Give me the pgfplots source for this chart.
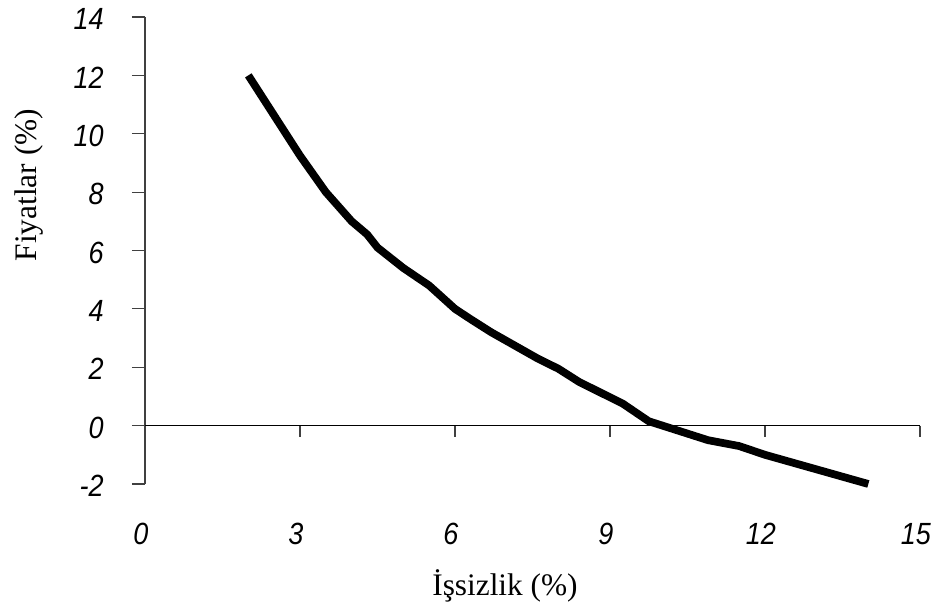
\documentclass[border=0pt]{standalone}
\usepackage{pgfplots}
\pgfplotsset{compat=1.18}
\usepackage{fontspec}
\setmainfont{Liberation Serif}
\newfontfamily\tickfont{Liberation Sans}[FakeStretch=0.88]

\begin{document}
\begin{tikzpicture}
% page frame: 947x610 px at 0.75pt per px, origin at the lower left of the plot area
\useasboundingbox (-108.75pt,-94.5pt) rectangle (601.5pt,363pt);
\begin{axis}[
    at={(0,0)}, anchor=south west,
    scale only axis,
    width=581.25pt, height=350.25pt,
    xmin=0, xmax=15,
    ymin=-2, ymax=14,
    xtick={0,3,...,15},
    xticklabels={0,3,6,9,12,15},
    ytick={-2,0,...,14},
    yticklabels={-2,0,2,4,6,8,10,12,14},
    axis line style={draw=none},
    xtick style={draw=none},
    ytick pos=left,
    tick align=outside,
    ytick style={black!75, line width=0.8pt},
    major tick length=9.75pt,
    tick label style={font=\tickfont\itshape\fontsize{23}{26}\selectfont},
    xticklabel style={anchor=north, inner sep=0pt, yshift=-19.5pt, xshift=-3pt},
    yticklabel style={anchor=east, inner sep=0pt, xshift=-21pt, yshift=-1.5pt},
    label style={font=\fontsize{23.5}{28}\selectfont},
    xlabel={İşsizlik (\%)},
    ylabel={Fiyatlar (\%)},
    xlabel style={at={(axis description cs:0.4645,-0.2398)}, anchor=base},
    ylabel style={at={(axis description cs:-0.1398,0.64)}, anchor=base},
    clip=false,
]

% axis lines: y axis at x=0, x axis at y=0
\draw[black!75, line width=0.8pt] (axis cs:0,-2) -- (axis cs:0,14);
\draw[black, line width=0.8pt] (axis cs:0,0) -- (axis cs:15,0);
\pgfplotsinvokeforeach{0,3,6,9,12,15}{
    \draw[black!75, line width=0.8pt] (axis cs:#1,0) -- ([yshift=-8.25pt]axis cs:#1,0);
}

% Phillips curve
\addplot[black, line width=5.8pt, line join=round] coordinates {
    (2,12) (3,9.25) (3.5,8.0) (4,7.0) (4.3,6.55) (4.5,6.1)
    (5,5.4) (5.5,4.8) (6,4.0) (6.3,3.65) (6.7,3.2) (7.6,2.3)
    (8,1.95) (8.4,1.5) (9.25,0.75) (9.75,0.15) (10.9,-0.5)
    (11.5,-0.7) (12,-1.0) (14,-2)
};

\end{axis}
\end{tikzpicture}
\end{document}
